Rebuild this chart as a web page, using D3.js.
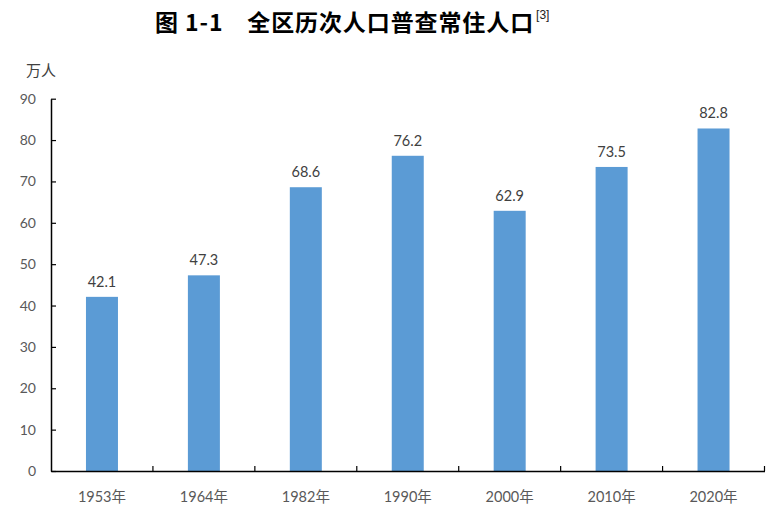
<!DOCTYPE html>
<html><head><meta charset="utf-8">
<script src="https://cdn.jsdelivr.net/npm/d3@7"></script>
<style>body{margin:0;background:#fff}svg{display:block}</style>
</head><body>
<script>
const categories = ["1953年","1964年","1982年","1990年","2000年","2010年","2020年"];
const values = [42.1, 47.3, 68.6, 76.2, 62.9, 73.5, 82.8];
const yTicks = [0,10,20,30,40,50,60,70,80,90];
const titleMain = "图 1-1　全区历次人口普查常住人口";
const titleNote = "[3]";
const unitLabel = "万人";

const W = 775, H = 509;
const margin = {left: 51, right: 10.5, top: 98.7, bottom: 38};
const svg = d3.select("body").append("svg").attr("width", W).attr("height", H);
const fontNum = "Lato, 'Noto Sans CJK SC', sans-serif";
const fontCJK = "'Noto Sans CJK SC', sans-serif";

const x = d3.scaleBand().domain(categories).range([margin.left, W - margin.right]).paddingInner(0).paddingOuter(0);
const y = d3.scaleLinear().domain([0, 90]).range([H - margin.bottom, margin.top]);
const barW = 32;

// title
const t = svg.append("text").attr("x", 155).attr("y", 31)
  .attr("font-family", fontCJK).attr("font-weight", "bold").attr("font-size", 23)
  .attr("letter-spacing", 0.9).attr("fill", "#000").text(titleMain);
const tEnd = 155 + t.node().getComputedTextLength();
svg.append("text").attr("x", Math.max(tEnd + 2, 531)).attr("y", 19).attr("font-family", "'Liberation Sans', sans-serif").attr("font-size", 12)
  .attr("fill", "#222").text(titleNote);

svg.append("text").attr("x", 26).attr("y", 76).attr("font-family", fontCJK).attr("font-size", 15)
  .attr("fill", "#404040").text(unitLabel);

// bars
svg.append("g").selectAll("rect").data(values).join("rect")
  .attr("x", (d, i) => x(categories[i]) + x.bandwidth() / 2 - barW / 2)
  .attr("y", d => y(d)).attr("width", barW).attr("height", d => y(0) - y(d))
  .attr("fill", "#5B9BD5");

svg.append("g").selectAll("text").data(values).join("text")
  .attr("x", (d, i) => x(categories[i]) + x.bandwidth() / 2)
  .attr("y", d => y(d) - 10).attr("text-anchor", "middle")
  .attr("font-family", fontNum).attr("font-size", 14.5).attr("fill", "#404040")
  .text(d => d.toFixed(1));

// y axis
const ya = svg.append("g").attr("transform", `translate(${margin.left},0)`)
  .call(d3.axisRight(y).tickValues(yTicks).tickSize(5).tickSizeOuter(0).tickFormat(d3.format("d")));
ya.select(".domain").attr("stroke", "#000").attr("stroke-width", 1.5);
ya.selectAll(".tick line").attr("stroke", "#000").attr("stroke-width", 1.2);
ya.selectAll(".tick text").attr("x", -15).attr("text-anchor", "end")
  .attr("font-family", fontNum).attr("font-size", 14).attr("fill", "#595959");

// x axis
const xa = svg.append("g").attr("transform", `translate(0,${y(0)})`)
  .call(d3.axisTop(x).tickSize(0).tickFormat(""));
xa.select(".domain").attr("stroke", "#000").attr("stroke-width", 1.5);
xa.selectAll(".tick").remove();
const bounds = categories.map(c => x(c) + x.bandwidth());
xa.selectAll("line.sep").data(bounds).join("line").attr("class", "sep")
  .attr("x1", d => d).attr("x2", d => d).attr("y1", 0).attr("y2", -5)
  .attr("stroke", "#000").attr("stroke-width", 1.2);
svg.append("g").selectAll("text").data(categories).join("text")
  .attr("x", d => x(d) + x.bandwidth() / 2).attr("y", 502)
  .attr("text-anchor", "middle").attr("font-family", fontNum).attr("font-size", 14.5)
  .attr("fill", "#595959").text(d => d);
</script>
</body></html>
